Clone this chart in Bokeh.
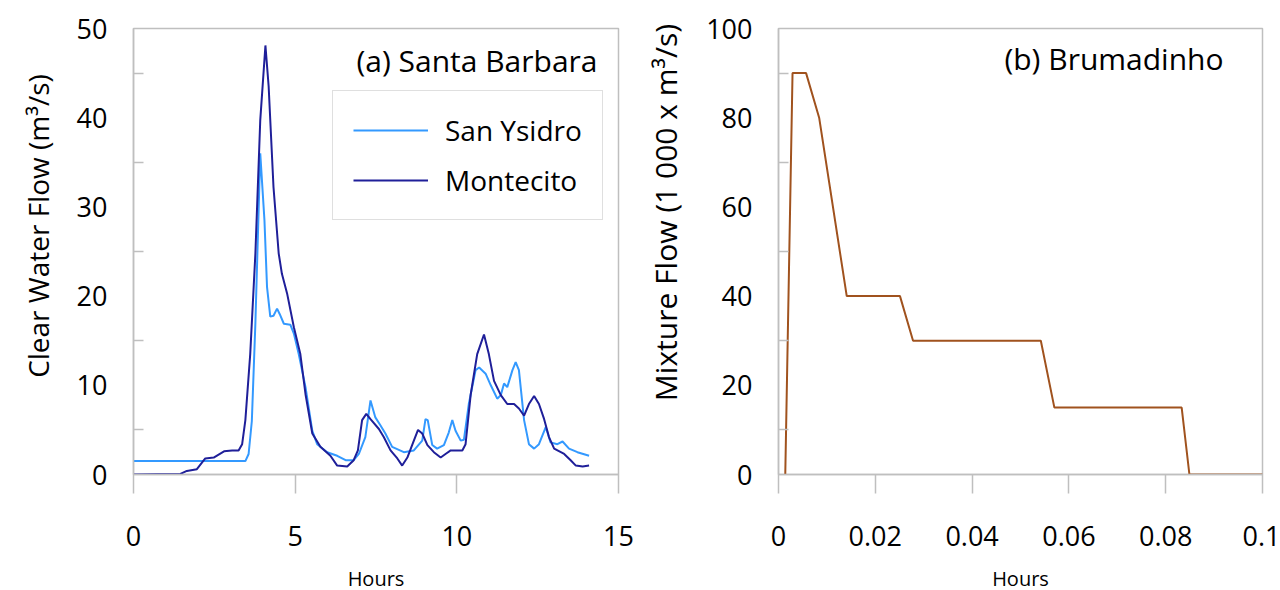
from bokeh.plotting import figure
from bokeh.layouts import row
from bokeh.models import FixedTicker, Label, Legend, LegendItem, Range1d
from bokeh.embed import file_html
from bokeh.resources import INLINE

# ---- Data: (a) Santa Barbara ----
sy_hours = [0, 3.46, 3.56, 3.66, 3.77, 3.92, 4.05, 4.13, 4.23, 4.33, 4.44, 4.52, 4.65, 4.85,
            4.96, 5.11, 5.32, 5.53, 5.68, 5.99, 6.3, 6.56, 6.81, 6.97, 7.17, 7.33, 7.48, 7.64,
            7.79, 8.0, 8.36, 8.67, 8.93, 9.03, 9.1, 9.24, 9.39, 9.6, 9.75, 9.86, 9.96, 10.12,
            10.22, 10.37, 10.58, 10.69, 10.89, 11.05, 11.25, 11.36, 11.46, 11.56, 11.72, 11.82,
            11.92, 12.08, 12.23, 12.39, 12.54, 12.75, 12.9, 13.11, 13.27, 13.47, 13.73, 14.09]
sy_flow = [1.5, 1.5, 2.3, 6.0, 17.0, 36.0, 28.5, 21.0, 17.7, 17.8, 18.6, 18.0, 16.9, 16.8,
           15.8, 13.5, 9.8, 4.9, 3.4, 2.5, 2.1, 1.6, 1.6, 2.3, 4.2, 8.3, 6.4, 5.5,
           4.6, 3.1, 2.5, 2.7, 3.8, 6.2, 6.1, 3.3, 2.9, 3.3, 4.7, 6.1, 4.9, 3.8,
           3.9, 7.9, 11.7, 12.0, 11.3, 10.0, 8.5, 8.9, 10.2, 9.8, 11.7, 12.6,
           11.7, 6.1, 3.4, 2.9, 3.4, 5.3, 3.6, 3.4, 3.7, 2.9, 2.5, 2.1]

mo_hours = [0, 1.45, 1.65, 1.96, 2.22, 2.48, 2.8, 3.05, 3.25, 3.36, 3.46, 3.61, 3.77, 3.92,
            4.08, 4.18, 4.33, 4.49, 4.59, 4.75, 4.96, 5.16, 5.32, 5.53, 5.78, 6.09, 6.3, 6.61,
            6.81, 6.94, 7.07, 7.2, 7.33, 7.59, 7.74, 7.95, 8.16, 8.31, 8.47, 8.65, 8.8, 8.93,
            9.09, 9.29, 9.5, 9.65, 9.81, 10.17, 10.27, 10.43, 10.63, 10.84, 10.99, 11.15, 11.36,
            11.56, 11.77, 11.92, 12.08, 12.23, 12.39, 12.54, 12.7, 12.85, 13.01, 13.32, 13.52,
            13.68, 13.89, 14.09]
mo_flow = [0.0, 0.07, 0.4, 0.6, 1.8, 1.9, 2.6, 2.7, 2.7, 3.4, 6.1, 13.5, 24.8, 39.7,
           48.1, 43.5, 32.2, 24.8, 22.5, 20.3, 16.5, 13.5, 9.0, 4.6, 3.1, 2.1, 1.0, 0.9,
           1.6, 2.7, 6.1, 6.8, 6.2, 5.1, 4.2, 2.7, 1.8, 1.0, 1.9, 3.6, 5.0, 4.6,
           3.3, 2.5, 1.9, 2.3, 2.7, 2.7, 3.4, 9.0, 13.5, 15.7, 13.5, 10.5, 8.9,
           7.9, 7.9, 7.4, 6.6, 7.9, 8.8, 7.9, 6.2, 4.2, 2.9, 2.3, 1.6,
           1.0, 0.9, 1.0]

# ---- Data: (b) Brumadinho ----
br_hours = [0.0014, 0.0029, 0.0057, 0.0084, 0.0141, 0.0251, 0.0278, 0.0542, 0.0570, 0.0833, 0.0849, 0.1]
br_flow = [0, 90, 90, 80, 40, 40, 30, 30, 15, 15, 0, 0]

x_ticks_a = [0, 5, 10, 15]
y_ticks_a = [0, 10, 20, 30, 40, 50]
x_ticks_b = [0, 0.02, 0.04, 0.06, 0.08, 0.1]
y_ticks_b = [0, 20, 40, 60, 80, 100]

FONT = "Open Sans"
GREY = "#bfbfbf"


def style(p, xt, yt, yminor):
    p.xaxis.ticker = FixedTicker(ticks=xt)
    p.yaxis.ticker = FixedTicker(ticks=yt, minor_ticks=yminor)
    for ax in (p.xaxis[0], p.yaxis[0]):
        ax.axis_line_color = GREY
        ax.axis_line_width = 1.5
        ax.major_tick_line_color = GREY
        ax.minor_tick_line_color = GREY
        ax.major_tick_line_width = 1.5
        ax.minor_tick_line_width = 1.5
        ax.major_label_text_font = FONT
        ax.axis_label_text_font = FONT
        ax.major_label_text_color = "black"
        ax.axis_label_text_color = "black"
        ax.axis_label_text_font_style = "normal"
    p.xaxis.major_tick_in = 0
    p.xaxis.major_tick_out = 19
    p.xaxis.minor_tick_in = 0
    p.xaxis.minor_tick_out = 0
    p.xaxis.major_label_text_font_size = "27px"
    p.xaxis.major_label_standoff = 32
    p.xaxis.axis_label_text_font_size = "20px"
    p.xaxis.axis_label_standoff = 16
    p.yaxis.major_tick_in = 0
    p.yaxis.major_tick_out = 0
    p.yaxis.minor_tick_in = 10
    p.yaxis.minor_tick_out = 0
    p.yaxis.major_label_text_font_size = "27px"
    p.yaxis.major_label_standoff = 26
    p.yaxis.axis_label_text_font_size = "28px"
    p.yaxis.axis_label_standoff = 17
    p.xgrid.visible = False
    p.ygrid.visible = False
    p.outline_line_color = GREY
    p.outline_line_width = 1.5


# ---- Panel (a) ----
pa = figure(width=640, height=590, frame_width=485, frame_height=446,
            x_range=Range1d(0, 15), y_range=Range1d(0, 50),
            output_backend="svg", toolbar_location=None,
            min_border_left=133, min_border_right=22, min_border_top=28, min_border_bottom=20)
style(pa, x_ticks_a, y_ticks_a, [5, 15, 25, 35, 45])
pa.xaxis.axis_label = "Hours"
pa.yaxis.axis_label = "\u00a0" * 7 + "Clear Water Flow (m\u00b3/s)"
r1 = pa.line(sy_hours, sy_flow, line_color="#3399ff", line_width=2)
r2 = pa.line(mo_hours, mo_flow, line_color="#1f1f99", line_width=2)
legend = Legend(items=[LegendItem(label="San Ysidro", renderers=[r1]),
                       LegendItem(label="Montecito", renderers=[r2])],
                label_text_font=FONT, label_text_font_size="28px",
                label_text_color="black",
                border_line_color=GREY, border_line_width=1.5, glyph_width=75,
                label_standoff=17, padding=20, spacing=12, margin=0,
                background_fill_alpha=1)
pa.add_layout(legend)
legend.location = (199, 254)
title_a = Label(x=15, y=50, x_offset=-21, y_offset=-11, text="(a) Santa Barbara",
                text_font=FONT, text_font_size="30px", text_align="right",
                text_baseline="top", text_color="black")
pa.add_layout(title_a)

# ---- Panel (b) ----
pb = figure(width=640, height=590, frame_width=484, frame_height=446,
            x_range=Range1d(0, 0.1), y_range=Range1d(0, 100),
            output_backend="svg", toolbar_location=None,
            min_border_left=138, min_border_right=18, min_border_top=28, min_border_bottom=20)
style(pb, x_ticks_b, y_ticks_b, [10, 30, 50, 70, 90])
pb.xaxis.axis_label = "Hours"
pb.yaxis.axis_label = "\u00a0" * 10 + "Mixture Flow (1 000 x m\u00b3/s)"
pb.yaxis.axis_label_text_font_size = "30px"
pb.line(br_hours, br_flow, line_color="#a0521e", line_width=2)
title_b = Label(x=0.1, y=100, x_offset=-39, y_offset=-9, text="(b) Brumadinho",
                text_font=FONT, text_font_size="30px", text_align="right",
                text_baseline="top", text_color="black")
pb.add_layout(title_b)

layout = row(pa, pb)
open("out.html", "w").write(file_html(layout, INLINE))
